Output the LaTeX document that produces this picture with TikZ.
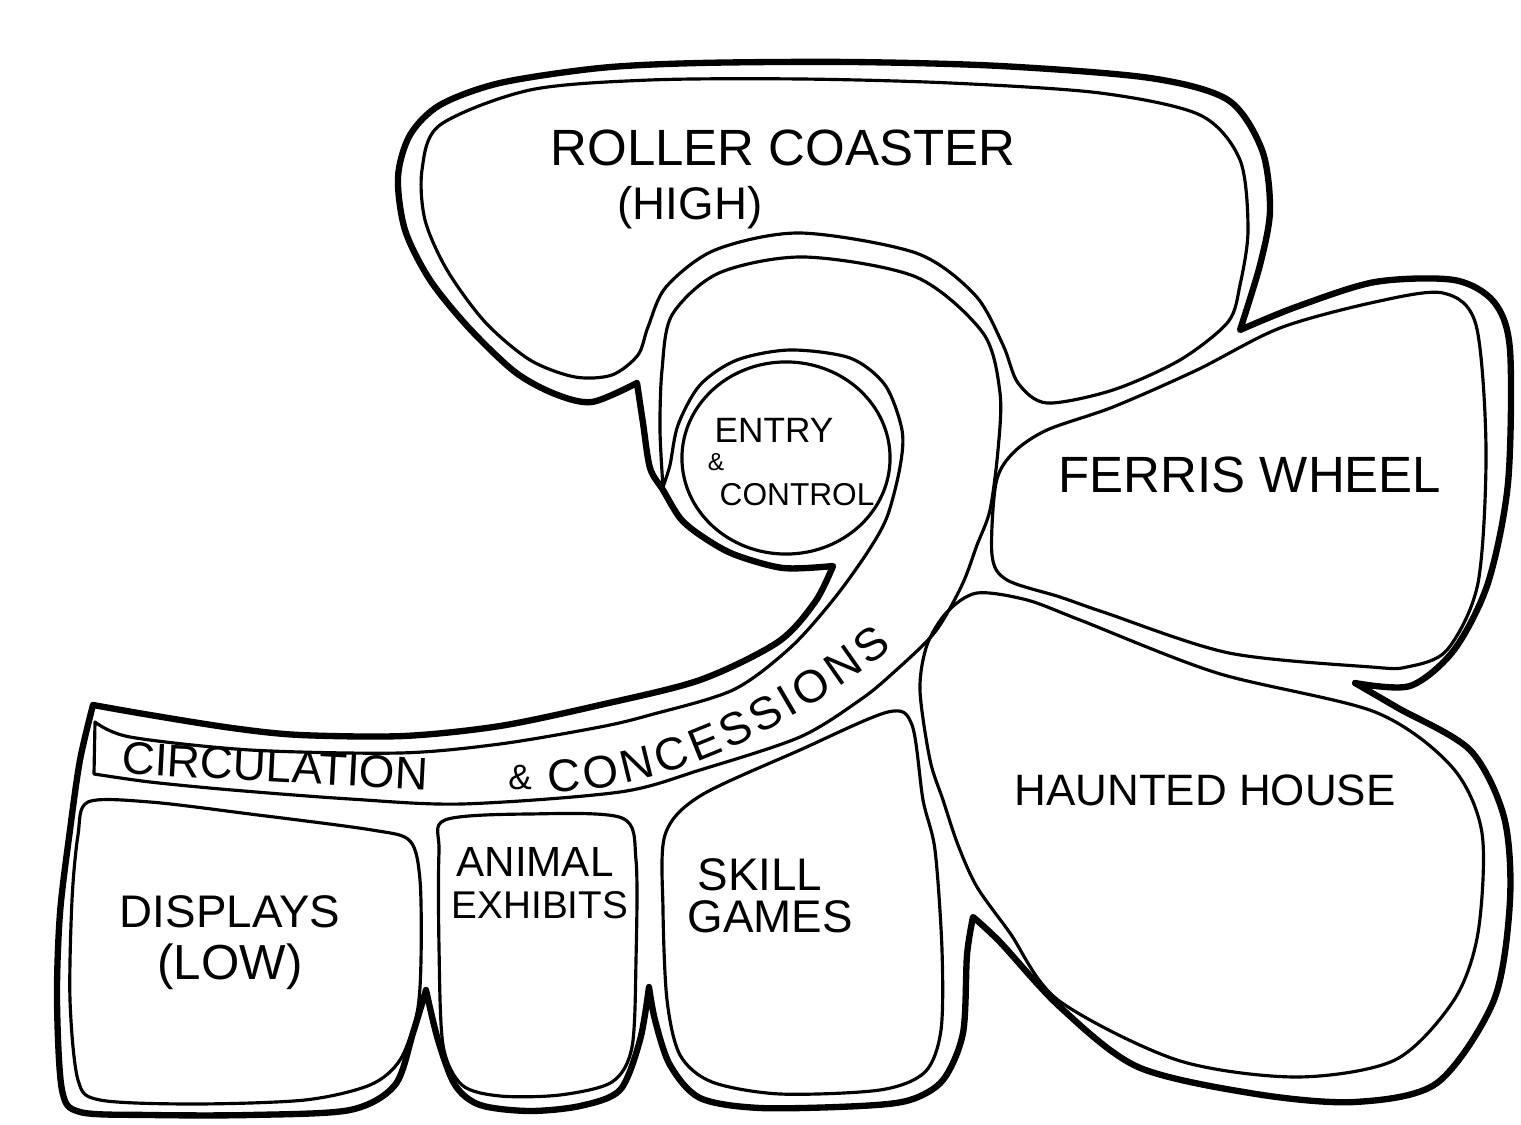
\documentclass[tikz,border=0pt]{standalone}
\usepackage{fontspec}
\setmainfont{Liberation Sans}
\usetikzlibrary{decorations.text}

\begin{document}
\begin{tikzpicture}[
    x=0.01cm, y=-0.01cm,
    line join=round, line cap=round,
    boundary/.style={draw=black, line width=1.8pt},
    zone/.style={draw=black, line width=0.9pt},
    area label/.style={font=\fontsize{13}{15}\selectfont, inner sep=0pt},
    big label/.style={font=\fontsize{14.5}{16}\selectfont, inner sep=0pt},
    small label/.style={font=\fontsize{10}{12}\selectfont, inner sep=0pt}
]
    \useasboundingbox (0,0) rectangle (1521,1125);

    % Outer boundary
    \draw[boundary]
        plot[smooth] coordinates {(93,705) (150,715) (232,728) (300,735) (404,736) (500,726) (600,705) (700,680) (778,642) (815,602) (833,566)}
        -- plot[smooth] coordinates {(833,566) (783,568) (733,554) (700,535) (680,518) (663,490) (650,468) (643,423) (637,383)}
        -- plot[smooth] coordinates {(637,383) (592,402) (555,394) (515,372) (469,328) (430,280) (405,230) (398,177) (410,135) (440,105) (500,83) (600,68) (700,63) (850,62) (1000,66) (1150,78) (1228,100) (1262,150) (1270,210) (1260,265) (1240,330)}
        -- plot[smooth] coordinates {(1240,330) (1296,307) (1375,282) (1454,280) (1494,302) (1510,350) (1508,483) (1488,583) (1454,650) (1410,686) (1355,683)}
        -- plot[smooth] coordinates {(1355,683) (1398,708) (1470,750) (1504,817) (1510,900) (1494,1000) (1437,1083) (1355,1102) (1256,1094) (1138,1067) (1060,1007) (1000,942) (973,917)}
        -- plot[smooth] coordinates {(973,917) (967,955) (963,1033) (943,1080) (910,1100) (860,1106) (760,1108) (700,1098) (670,1065) (655,1020) (649,987)}
        -- plot[smooth] coordinates {(649,987) (640,1040) (620,1090) (580,1106) (529,1111) (480,1105) (455,1085) (438,1040) (426,990)}
        -- plot[smooth] coordinates {(426,990) (413,1033) (395,1085) (350,1110) (250,1115) (150,1115) (80,1112) (62,1090) (57,1000) (60,913) (70,830) (80,760) (93,705)}
        -- cycle;

    % Areas
    \draw[zone] plot[smooth cycle] coordinates {(440,125) (530,90) (650,80) (800,79) (950,83) (1100,93) (1200,115) (1240,160) (1248,230) (1240,285) (1228,322) (1180,360) (1113,390) (1047,403) (1018,383) (1003,345) (975,295) (916,253) (800,233) (715,250) (666,287) (648,327) (638,355) (612,375) (575,377) (530,360) (485,322) (447,270) (425,220) (422,170)};
    \draw[zone] (786,458) ellipse [x radius=1.04cm, y radius=0.96cm];
    \draw[zone] plot[smooth] coordinates {(663,487) (660,430) (662,370) (672,315) (719,273) (804,257) (916,277) (983,333) (1000,393) (998,450) (990,510) (977,545) (962,585) (935,632) (893,673) (860,700) (800,737) (700,770) (620,792) (462,804) (350,799) (232,790) (150,782) (94,774)}
        -- plot[smooth] coordinates {(95,722) (130,737) (250,750) (400,753) (500,744) (600,727) (650,715) (733,690) (790,648) (833,600) (867,553) (887,517) (900,467) (902,430) (885,385) (850,358) (790,350) (737,360) (700,385) (678,425) (670,465) (663,487)};
    \draw[zone] plot[smooth cycle] coordinates {(1013,453) (1047,430) (1113,407) (1197,370) (1280,328) (1375,302) (1443,293) (1476,325) (1486,450) (1478,583) (1447,650) (1407,667) (1371,667) (1229,653) (1106,613) (1060,597) (1007,580) (992,555) (996,483)};
    \draw[zone] plot[smooth cycle] coordinates {(977,593) (1027,600) (1080,620) (1217,673) (1375,712) (1452,767) (1482,833) (1478,933) (1454,1000) (1395,1060) (1296,1077) (1177,1060) (1058,1000) (1010,933) (977,887) (958,845) (943,800) (930,760) (920,690) (927,645) (947,612)};
    \draw[zone] plot[smooth cycle] coordinates {(88,802) (150,802) (250,814) (372,830) (410,841) (420,880) (421,960) (417,1013) (400,1060) (370,1085) (305,1100) (194,1104) (100,1100) (78,1080) (70,1000) (72,900) (78,835)};
    \draw[zone] plot[smooth cycle] coordinates {(445,820) (529,814) (622,818) (636,860) (636,960) (632,1047) (612,1082) (560,1095) (500,1096) (462,1085) (443,1045) (439,947) (439,852)};
    \draw[zone] plot[smooth cycle] coordinates {(665,835) (700,796) (800,750) (888,712) (912,725) (923,800) (935,850) (942,950) (941,1030) (925,1072) (880,1090) (780,1094) (712,1082) (680,1055) (667,1000) (663,910)};

    % Labels
    \node[big label] (coaster) at (783,148) {ROLLER COASTER};
    \node[area label] (high) at (690,208) {(HIGH)};
    \node[small label, anchor=west] (entry) at (714,430) {ENTRY};
    \node[font=\fontsize{7}{8}\selectfont, inner sep=0pt] (entryamp) at (716,462) {\&};
    \node[small label, font=\fontsize{9}{11}\selectfont, anchor=west] (control) at (719,495) {CONTROL};
    \node[big label] (ferris) at (1250,475) {FERRIS WHEEL};
    \node[area label, font=\fontsize{12.5}{14}\selectfont] (haunted) at (1205,790) {HAUNTED HOUSE};
    \node[area label] (displays) at (230,912) {DISPLAYS};
    \node[font=\fontsize{14}{16}\selectfont, inner sep=0pt] (low) at (230,967) {(LOW)};
    \node[area label, font=\fontsize{12}{14}\selectfont] (animal) at (535,862) {ANIMAL};
    \node[area label, font=\fontsize{11}{13}\selectfont] (exhibits) at (540,905) {EXHIBITS};
    \node[area label] (skill) at (760,875) {SKILL};
    \node[area label] (games) at (770,917) {GAMES};
    \node[area label, rotate=-3] (circ) at (275,766) {CIRCULATION};
    \node[font=\fontsize{10}{12}\selectfont, inner sep=0pt] (circamp) at (520,778) {\&};
    \path[decorate, decoration={text along path, text align={fit to path},
        text={|\fontsize{13}{15}\selectfont|CONCESSIONS}}]
        (548,792) .. controls (680,790) and (800,720) .. (893,648);
\end{tikzpicture}
\end{document}
